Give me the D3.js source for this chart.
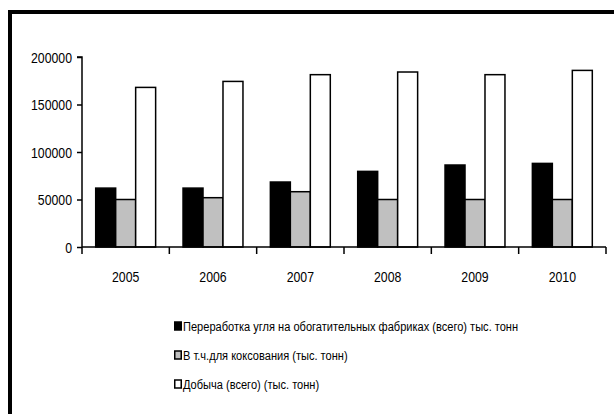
<!DOCTYPE html>
<html>
<head>
<meta charset="utf-8">
<script src="https://cdn.jsdelivr.net/npm/d3@7"></script>
<style>
  html, body { margin: 0; padding: 0; background: #fff; }
  svg { display: block; }
  text { font-family: "Liberation Sans", Arial, sans-serif; fill: #000; }
</style>
</head>
<body>
<svg id="chart" width="614" height="414"></svg>
<script>
const years = ["2005", "2006", "2007", "2008", "2009", "2010"];
const seriesNames = [
  "Переработка угля на обогатительных фабриках (всего) тыс. тонн",
  "В т.ч.для коксования (тыс. тонн)",
  "Добыча (всего) (тыс. тонн)"
];
const processing = [62000, 62000, 68400, 79600, 86300, 88000];
const coking = [50000, 51900, 58200, 50000, 50000, 50000];
const mining = [168000, 174300, 181400, 184200, 181400, 185900];
const yTicks = [0, 50000, 100000, 150000, 200000];
const seriesColors = ["#000000", "#C0C0C0", "#FFFFFF"];

const seriesValues = [processing, coking, mining];
const NARROW = 0.82;

// condense text horizontally around its anchor point (emulates Arial Narrow)
function narrow(sel, sx) {
  sel.each(function () {
    const t = d3.select(this);
    const x = +t.attr("x") || 0, yy = +t.attr("y") || 0;
    t.attr("x", 0).attr("y", 0)
     .attr("transform", `translate(${x},${yy}) scale(${sx},1)`);
  });
}

const svg = d3.select("#chart");

// outer frame (cropped at right/bottom)
svg.append("rect")
  .attr("x", 10).attr("y", 12)
  .attr("width", 640).attr("height", 440)
  .attr("fill", "#fff").attr("stroke", "#000").attr("stroke-width", 4);

const pLeft = 82, pRight = 606, pTop = 57, pBottom = 247;

const x0 = d3.scaleBand().domain(years).range([pLeft, pRight]).paddingInner(0).paddingOuter(0);
const x1 = d3.scaleBand().domain(d3.range(3)).range([13.7, x0.bandwidth() - 13.7]).padding(0);
const y = d3.scaleLinear().domain([0, 200000]).range([pBottom, pTop]);

// bars
const groups = svg.append("g").selectAll("g")
  .data(years).join("g")
  .attr("transform", d => `translate(${x0(d)},0)`);

groups.selectAll("rect")
  .data((d, i) => seriesValues.map((s, k) => ({ k, v: s[i] })))
  .join("rect")
  .attr("x", d => x1(d.k))
  .attr("y", d => y(d.v))
  .attr("width", x1.bandwidth())
  .attr("height", d => pBottom - y(d.v))
  .attr("fill", d => seriesColors[d.k])
  .attr("stroke", "#000")
  .attr("stroke-width", 1.5);

// y axis
const yAxis = d3.axisLeft(y).tickValues(yTicks).tickSize(5).tickPadding(5).tickFormat(d3.format("d"));
const gy = svg.append("g").attr("transform", `translate(${pLeft},0)`).call(yAxis);
gy.attr("font-family", null).attr("font-size", null);
gy.select(".domain").attr("stroke-width", 1.5).attr("d", `M-5,${pTop}H0V${pBottom}`);
gy.selectAll(".tick line").attr("stroke-width", 1.5);
gy.selectAll(".tick text").attr("font-size", 15).attr("dy", "0.36em").call(narrow, NARROW);

// x axis
const xAxis = d3.axisBottom(x0).tickSize(0).tickPadding(0);
const gx = svg.append("g").attr("transform", `translate(0,${pBottom})`).call(xAxis);
gx.attr("font-family", null).attr("font-size", null);
gx.select(".domain").attr("stroke-width", 1.5).attr("d", `M${pLeft},0H${pRight}`);
gx.selectAll(".tick text").attr("font-size", 15).attr("y", 35).attr("dy", 0).call(narrow, NARROW);
// category boundary tick marks
gx.selectAll(".sep").data(years.map(d => x0(d) + x0.bandwidth()).concat([pLeft]))
  .join("line").attr("class", "sep")
  .attr("x1", d => d).attr("x2", d => d)
  .attr("y1", 0).attr("y2", 7)
  .attr("stroke", "#000").attr("stroke-width", 1.5);

// legend
const legend = svg.append("g").attr("transform", "translate(174,0)");
const rowsY = [326, 355, 384];
const lg = legend.selectAll("g").data(seriesNames).join("g")
  .attr("transform", (d, i) => `translate(0,${rowsY[i]})`);
lg.append("rect")
  .attr("x", 0.75).attr("y", -4).attr("width", 6.5).attr("height", 8)
  .attr("fill", (d, i) => seriesColors[i])
  .attr("stroke", "#000").attr("stroke-width", 1.5);
lg.append("text")
  .attr("x", 9).attr("y", 0).attr("dy", "0.36em")
  .attr("font-size", 13.5)
  .text(d => d)
  .call(narrow, 0.82);
</script>
</body>
</html>
